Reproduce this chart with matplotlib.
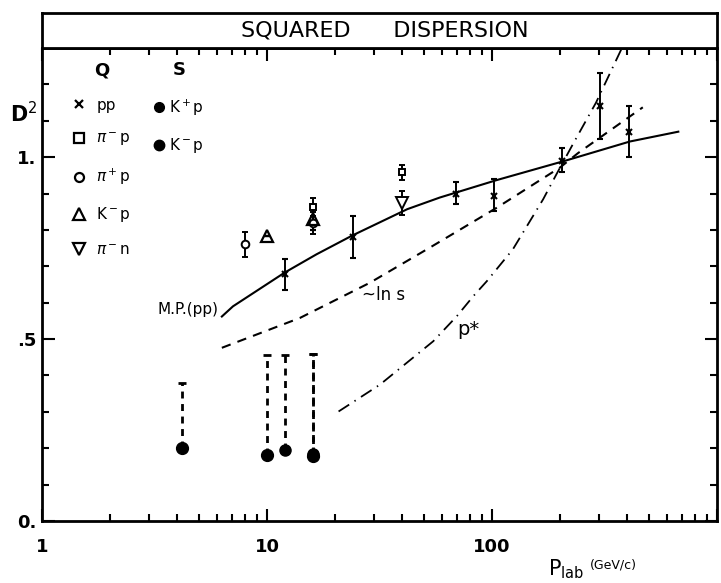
import numpy as np
import matplotlib.pyplot as plt
from matplotlib.ticker import FixedLocator, LogLocator, MultipleLocator, NullFormatter
from matplotlib.lines import Line2D

plt.rcParams['font.family'] = ['DejaVu Sans']

# Q : charged-particle data with error bars
pp_plab = [12, 24, 69, 102, 205, 303, 405]
pp_d2 = [0.68, 0.78, 0.90, 0.893, 0.99, 1.14, 1.07]
pp_lo = [0.045, 0.058, 0.03, 0.04, 0.03, 0.09, 0.07]
pp_hi = [0.04, 0.057, 0.032, 0.047, 0.035, 0.09, 0.07]

pim_plab = [16, 40]
pim_d2 = [0.864, 0.958]
pim_err = [0.025, 0.02]

pip_plab = [8, 16]
pip_d2 = [0.76, 0.82]
pip_err = [0.035, 0.03]

km_plab = [10, 16]
km_d2 = [0.782, 0.83]
km_err = [0.0, 0.03]

pin_plab = [40]
pin_d2 = [0.873]
pin_err = [0.033]

# S : strange-particle points (upper bounds drawn dashed)
kp_plab = [12, 16]
kp_d2 = [0.196, 0.185]
kp_up = [0.457, 0.46]

kmS_plab = [4.2, 10, 16]
kmS_d2 = [0.20, 0.182, 0.18]
kmS_up = [0.379, 0.457, 0.46]

# model curves
mp_plab = [6.3, 7.06, 12, 16.6, 24, 42, 58.6, 105, 211, 410, 673]
mp_d2 = [0.562, 0.59, 0.683, 0.733, 0.785, 0.857, 0.889, 0.937, 0.99, 1.043, 1.07]

lns_plab = [6.3, 14, 28.7, 52.8, 105, 201, 241, 468]
lns_d2 = [0.476, 0.558, 0.655, 0.751, 0.861, 0.972, 1.011, 1.137]

pstar_plab = [20.8, 31.8, 54.8, 69.8, 82.6, 94.8, 123.9, 168.7, 193.4, 229, 254, 290, 378]
pstar_d2 = [0.301, 0.375, 0.494, 0.563, 0.618, 0.659, 0.747, 0.884, 0.953, 1.036, 1.086, 1.15, 1.30]

fig = plt.figure(figsize=(7.21, 5.83), dpi=100)
ax = fig.add_axes([42/721, 62/583, 675/721, 473/583])

ax.plot(mp_plab, mp_d2, color='k', lw=1.5)
ax.plot(lns_plab, lns_d2, color='k', lw=1.5, ls=(0, (4.5, 3.5)))
ax.plot(pstar_plab, pstar_d2, color='k', lw=1.3, ls=(0, (7, 3.5, 0.8, 3.5)))

eb = dict(color='k', elinewidth=1.4, capsize=2.5, capthick=1.4, ls='none')
ax.errorbar(pp_plab, pp_d2, yerr=[pp_lo, pp_hi], marker='x', ms=5, mew=1.5, **eb)
ax.errorbar(pim_plab, pim_d2, yerr=pim_err, marker='s', ms=5, mfc='white', mew=1.4, **eb)
ax.errorbar(pip_plab, pip_d2, yerr=pip_err, marker='o', ms=5.5, mfc='white', mew=1.4, **eb)
ax.errorbar(km_plab, km_d2, yerr=km_err, marker='^', ms=8, mfc='none', mew=1.6, **eb)
ax.errorbar(pin_plab, pin_d2, yerr=pin_err, marker='v', ms=8, mfc='white', mew=1.4, **eb)

ax.vlines(kp_plab, kp_d2, kp_up, color='k', lw=2, linestyles=(0, (2.5, 2)))
ax.vlines(kmS_plab, kmS_d2, kmS_up, color='k', lw=2, linestyles=(0, (2.5, 2)))
ax.plot(kp_plab, kp_up, ls='none', marker='_', ms=6, mew=2, color='k')
ax.plot(kmS_plab, kmS_up, ls='none', marker='_', ms=6, mew=2, color='k')
ax.plot(kp_plab, kp_d2, ls='none', marker='o', ms=8, color='k')
ax.plot(kmS_plab, kmS_d2, ls='none', marker='o', ms=8.5, color='k')

ax.set_xscale('log')
ax.set_xlim(1, 1000)
ax.set_ylim(0, 1.3)
ax.xaxis.set_major_locator(FixedLocator([1, 10, 100, 1000]))
ax.set_xticklabels(['1', '10', '100', ''])
ax.xaxis.set_minor_locator(LogLocator(base=10, subs=np.arange(2, 10), numticks=20))
ax.xaxis.set_minor_formatter(NullFormatter())
ax.yaxis.set_major_locator(FixedLocator([0, 0.5, 1.0]))
ax.set_yticklabels(['0.', '.5', '1.'])
ax.yaxis.set_minor_locator(MultipleLocator(0.1))
ax.tick_params(which='both', direction='in', top=True, right=True, width=1.5)
ax.tick_params(which='major', length=9, labelsize=13)
ax.tick_params(which='minor', length=5)
ax.tick_params(axis='x', pad=12)
ax.tick_params(axis='y', pad=4)
for lab in ax.get_xticklabels() + ax.get_yticklabels():
    lab.set_fontweight('bold')
for sp in ax.spines.values():
    sp.set_linewidth(2)

# legends
q_handles = [
    Line2D([], [], ls='none', marker='x', ms=6, mew=1.6, color='k'),
    Line2D([], [], ls='none', marker='s', ms=6.5, mfc='white', mew=1.6, color='k'),
    Line2D([], [], ls='none', marker='o', ms=6.5, mfc='white', mew=1.6, color='k'),
    Line2D([], [], ls='none', marker='^', ms=8, mfc='white', mew=1.6, color='k'),
    Line2D([], [], ls='none', marker='v', ms=8, mfc='white', mew=1.6, color='k'),
]
q_labels = ['pp', r'$\pi^-$p', r'$\pi^+$p', r'K$^-$p', r'$\pi^-$n']
leg1 = ax.legend(q_handles, q_labels, title='Q', loc='upper left',
                 bbox_to_anchor=(0.035, 0.985), frameon=False, handlelength=1.0,
                 handletextpad=0.6, labelspacing=1.2, fontsize=11,
                 title_fontproperties={'size': 13, 'weight': 'bold'}, borderaxespad=0)
ax.add_artist(leg1)
s_handles = [
    Line2D([], [], ls='none', marker='o', ms=7, color='k'),
    Line2D([], [], ls='none', marker='o', ms=7.5, color='k'),
]
ax.legend(s_handles, [r'K$^+$p', r'K$^-$p'], title='S', loc='upper left',
          bbox_to_anchor=(0.158, 0.985), frameon=False, handlelength=0.6,
          handletextpad=0.3, labelspacing=1.2, fontsize=11,
          title_fontproperties={'size': 13, 'weight': 'bold'}, borderaxespad=0)

ax.text(6.1, 0.58, 'M.P.(pp)', ha='right', va='center', fontsize=11)
ax.text(26.5, 0.62, '~ln s', ha='left', va='center', fontsize=12)
ax.text(70, 0.525, 'p*', ha='left', va='center', fontsize=14)

# title box
tax = fig.add_axes([42/721, 1 - 48/583, 675/721, 35/583])
tax.set_xticks([])
tax.set_yticks([])
for sp in tax.spines.values():
    sp.set_linewidth(2)
tax.text(0.508, 0.5, 'SQUARED      DISPERSION', ha='center', va='center',
         fontsize=16, transform=tax.transAxes)

fig.text(10/721, 1 - 114/583, r'D$^2$', ha='left', va='center', fontsize=15, fontweight='bold')
fig.text(548/721, 0.004, r'P$_{\mathregular{lab}}$', ha='left', va='bottom', fontsize=15)
fig.text(590/721, 1 - 565/583, '(GeV/c)', ha='left', va='center', fontsize=9)

fig.savefig('out.png', dpi=100)
